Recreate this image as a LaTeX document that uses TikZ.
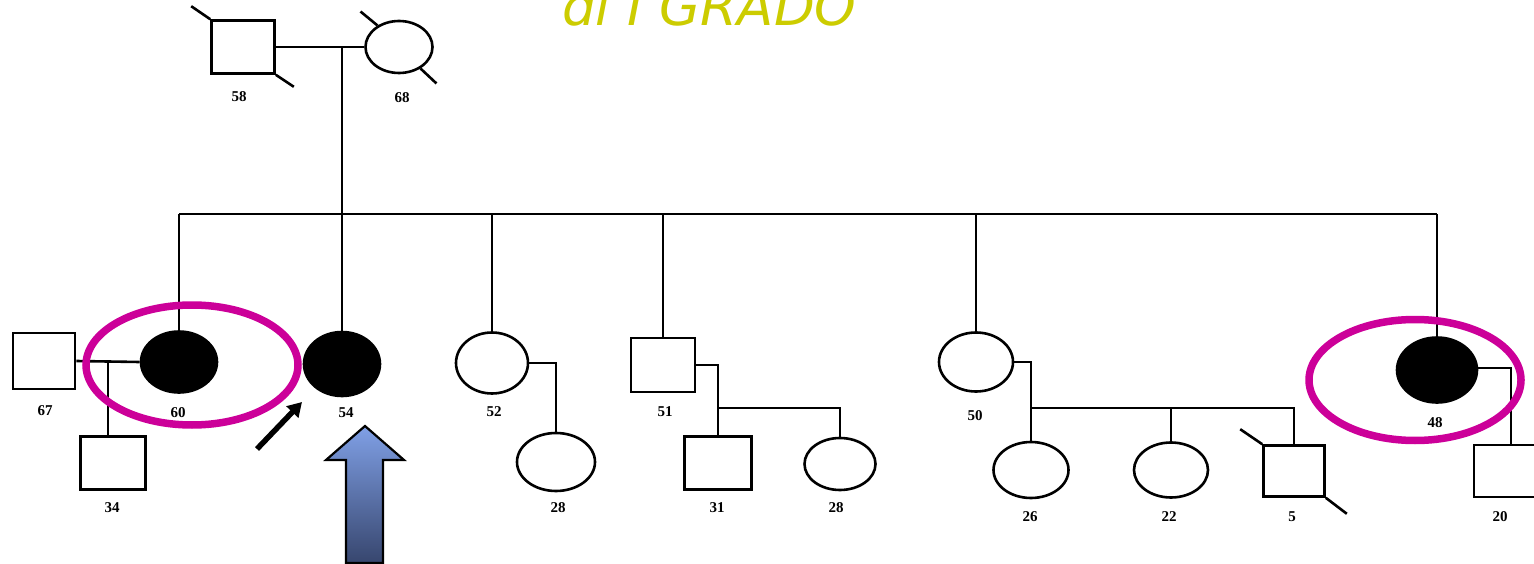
\documentclass[tikz,border=0pt]{standalone}
\usepackage{fontspec}
\setmainfont{Liberation Serif}
\newfontfamily\titlefont{DejaVu Sans}
\usetikzlibrary{shapes.geometric,arrows.meta,calc}
\definecolor{titlecol}{RGB}{204,204,0}
\definecolor{hicol}{RGB}{204,0,153}
\definecolor{arrtop}{RGB}{128,160,230}
\definecolor{arrbot}{RGB}{55,70,110}
\tikzset{
  male/.style={draw, rectangle, line width=2.6pt, inner sep=0pt, minimum width=#1, minimum height=0.84*#1},
  female/.style={draw, ellipse, line width=2.6pt, inner sep=0pt},
  aff/.style={fill=black},
  rel/.style={line width=2.6pt},
  lbl/.style={font=\bfseries\fontsize{15}{15}\selectfont, inner sep=0pt},
  hilite/.style={draw=hicol, ellipse, line width=7.5pt, inner sep=0pt},
  dead/.style={line width=2.6pt}
}
\begin{document}
\begin{tikzpicture}[x=1pt,y=-1pt]
\useasboundingbox (0,0) rectangle (1534,564);
% title
\node[anchor=base west, text=titlecol, inner sep=0pt, font=\titlefont\itshape\fontsize{53}{53}\selectfont] (title) at (562,26) {di I GRADO};
% generation I
\node[male=63pt, minimum height=53pt] (I1) at (243,47) {};
\node[female, minimum width=67pt, minimum height=52pt] (I2) at (399,47) {};
\draw[dead] (I1.north west) -- ++(-19,-13);
\draw[dead] (I1.south east) -- ++(18,12);
\draw[dead] (I2.135) -- ++(-17,-14);
\draw[dead] (I2.-45) -- ++(16,15);
\node[lbl] (l58) at (239,97) {58};
\node[lbl] (l68) at (402,98) {68};
\coordinate (m1) at (342,47);
\draw[rel] (I1.east) -- (I2.west);
\coordinate (sibL) at (179,214);
\coordinate (sibR) at (1437,214);
\coordinate (sibM) at (342,214);
\draw[rel] (m1) -- (sibM);
\draw[rel] (sibL) -- (sibR);
% generation II
\node[male=62pt, minimum height=56pt] (II1) at (44,361) {};
\node[female, aff, minimum width=76pt, minimum height=61pt] (II2) at (179,362) {};
\node[female, aff, minimum width=76pt, minimum height=64pt] (II3) at (342,364) {};
\node[female, minimum width=72pt, minimum height=61pt] (II4) at (492,363) {};
\node[male=64pt, minimum height=54pt] (II5) at (663,365) {};
\node[female, minimum width=74pt, minimum height=59pt] (II6) at (976,362) {};
\node[female, aff, minimum width=80pt, minimum height=65pt] (II7) at (1437,370) {};
\foreach \n in {II2,II3,II4,II5,II6,II7} \draw[rel] (\n.north |- sibL) -- (\n.north);
\node[lbl] (l67) at (45,411) {67};
\node[lbl] (l60) at (178,413) {60};
\node[lbl] (l54) at (346,413) {54};
\node[lbl] (l52) at (494,412) {52};
\node[lbl] (l51) at (665,412) {51};
\node[lbl] (l50) at (975,416) {50};
\node[lbl] (l48) at (1435,423) {48};
% generation III
\node[male=65pt, minimum height=53pt] (III1) at (113,463) {};
\node[female, minimum width=78pt, minimum height=58pt] (III2) at (556,462) {};
\node[male=67pt, minimum height=53pt] (III3) at (718,463) {};
\node[female, minimum width=71pt, minimum height=52pt] (III4) at (840,464) {};
\node[female, minimum width=75pt, minimum height=56pt] (III5) at (1031,470) {};
\node[female, minimum width=74pt, minimum height=55pt] (III6) at (1171,470) {};
\node[male=61pt, minimum height=51pt] (III7) at (1294,471) {};
\node[male=64pt, minimum height=52pt] (III8) at (1506,471) {};
\draw[dead] (III7.north west) -- ++(-22,-15);
\draw[dead] (III7.south east) -- ++(21,16);
\node[lbl] (l34) at (112,508) {34};
\node[lbl] (l28a) at (558,508) {28};
\node[lbl] (l31) at (717,508) {31};
\node[lbl] (l28b) at (836,508) {28};
\node[lbl] (l26) at (1030,517) {26};
\node[lbl] (l22) at (1169,517) {22};
\node[lbl] (l5) at (1292,517) {5};
\node[lbl] (l20) at (1500,517) {20};
% family lines
\draw[rel] (II1.east) -- (II2.west);
\coordinate (c1) at (108,361);
\draw[rel] (c1) -- (c1 |- III1.north);
\draw[rel] (II4.east) -| (III2.north);
\coordinate (j51) at (718,408);
\draw[rel] (II5.east) -| (III3.north);
\draw[rel] (j51) -| (III4.north);
\coordinate (j50) at (1031,408);
\draw[rel] (II6.east) -| (III5.north);
\draw[rel] (j50) -| (III7.north);
\draw[rel] (III6.north |- j50) -- (III6.north);
\coordinate (c48) at (1511,368);
\draw[rel] (II7.east |- c48) -- (c48) -- (c48 |- III8.north);
% highlights
\node[hilite, minimum width=212pt, minimum height=120pt] (H1) at (192,365) {};
\node[hilite, minimum width=212pt, minimum height=121pt] (H2) at (1415,380) {};
% proband arrow
\coordinate (pa1) at (257,449);
\coordinate (pa2) at (302,402);
\draw[line width=5.5pt, -{Triangle[width=16pt,length=14pt]}] (pa1) -- (pa2);
% blue block arrow
\shade[top color=arrtop, bottom color=arrbot, draw=black, line width=2.2pt]
  (346,563) -- (346,460) -- (326,460) -- (365,426) -- (404,460) -- (383,460) -- (383,563) -- cycle;
\end{tikzpicture}
\end{document}
